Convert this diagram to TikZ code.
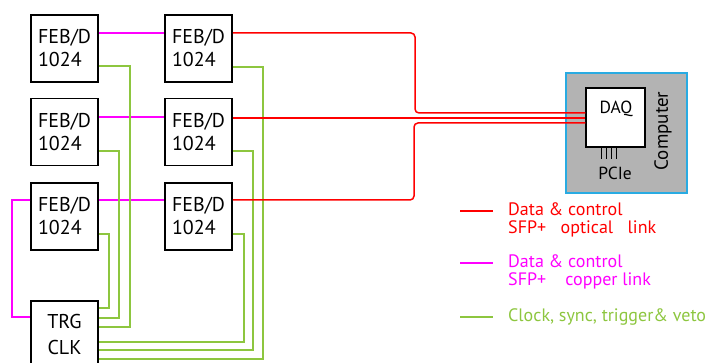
\documentclass[tikz,border=0pt]{standalone}
\usepackage{fontspec}
\setmainfont{PT Sans}
\definecolor{grn}{RGB}{141,198,63}
\definecolor{mag}{RGB}{255,0,255}
\definecolor{cblue}{RGB}{41,171,226}
\definecolor{cgray}{RGB}{179,179,179}
\begin{document}
\begin{tikzpicture}[x=1pt,y={(0,-1pt)},
  feb/.style={draw=black,line width=1.5pt,fill=white,minimum width=67pt,minimum height=67pt,inner sep=0pt,font=\fontsize{20}{23}\selectfont,align=left},
  gline/.style={draw=grn,line width=1.7pt},
  mline/.style={draw=mag,line width=1.4pt},
  redl/.style={draw=red,line width=1.5pt},
  rline/.style={redl,rounded corners=4pt},
  leg/.style={font=\fontsize{18}{18.5}\selectfont,align=left,anchor=west,inner sep=0pt}]
\useasboundingbox (0,0) rectangle (707,363);
% boxes
\node[feb] (L1) at (64.5,48.5) {FEB/D\\1024};
\node[feb] (L2) at (64.5,132) {FEB/D\\1024};
\node[feb] (L3) at (64.5,216.5) {FEB/D\\1024};
\node[feb] (R1) at (198.5,48.5) {FEB/D\\1024};
\node[feb] (R2) at (198.5,132) {FEB/D\\1024};
\node[feb] (R3) at (198.5,216.5) {FEB/D\\1024};
\node[feb,align=center,font=\fontsize{20}{26}\selectfont] (T) at (64.5,334.5) {TRG\\CLK};
% computer
\node[draw=cblue,fill=cgray,line width=1.5pt,minimum width=121pt,minimum height=120pt,inner sep=0pt] (C) at (626.5,133) {};
\node[draw=black,fill=white,line width=1.5pt,minimum width=59pt,minimum height=59pt,inner sep=0pt] (D) at (615.5,117.5) {};
\node[font=\fontsize{17.5}{17.5}\selectfont,inner sep=0pt] (DT) at (616,109) {DAQ};
\node[font=\fontsize{17.5}{17.5}\selectfont,inner sep=0pt] (PT) at (615,173) {PCIe};
\node[font=\fontsize{19}{19}\selectfont,inner sep=0pt,rotate=90] (CT) at (663,131) {Computer};
\foreach \px in {601,606,611,616}{\draw[line width=1pt] (\px,147) -- (\px,159);}
% magenta links
\draw[mline] (L1.east |- 0,33) -- (R1.west |- 0,33);
\draw[mline] (L2.east |- 0,117) -- (R2.west |- 0,117);
\draw[mline] (L3.east |- 0,200) -- (R3.west |- 0,200);
\draw[mline] (L3.west |- 0,200) -- (12,200) -- (12,317) -- (T.west |- 0,317);
% green links
\draw[gline] (L1.east |- 0,66) -- (130,66) -- (130,327) -- (T.east |- 0,327);
\draw[gline] (L2.east |- 0,151) -- (119,151) -- (119,318) -- (T.east |- 0,318);
\draw[gline] (L3.east |- 0,234) -- (109,234) -- (109,308) -- (T.east |- 0,308);
\draw[gline] (R1.east |- 0,67) -- (263,67) -- (263,359) -- (T.east |- 0,359);
\draw[gline] (R2.east |- 0,151) -- (253,151) -- (253,350) -- (T.east |- 0,350);
\draw[gline] (R3.east |- 0,234) -- (244,234) -- (244,342) -- (T.east |- 0,342);
% red links
\draw[rline] (R1.east |- 0,33) -- (415,33) -- (415,113) -- (D.west |- 0,113);
\draw[redl] (R2.east |- 0,118) -- (D.west |- 0,118);
\draw[rline] (R3.east |- 0,200) -- (414,200) -- (414,123) -- (D.west |- 0,123);
% legend
\coordinate (a1) at (460,211); \coordinate (a2) at (493,211);
\coordinate (b1) at (460,263); \coordinate (b2) at (493,263);
\coordinate (c1) at (460,317); \coordinate (c2) at (493,317);
\draw[redl] (a1) -- (a2);
\draw[mline] (b1) -- (b2);
\draw[gline] (c1) -- (c2);
\node[leg,text=red] (la) at (508,220) {Data \& control\\SFP+\ \ \ optical\ \ \ link};
\node[leg,text=mag] (lb) at (508,272) {Data \& control\\SFP+\ \ \ \ copper link};
\node[leg,text=grn] (lc) at (508,317) {Clock, sync, trigger\& veto};
\end{tikzpicture}
\end{document}
